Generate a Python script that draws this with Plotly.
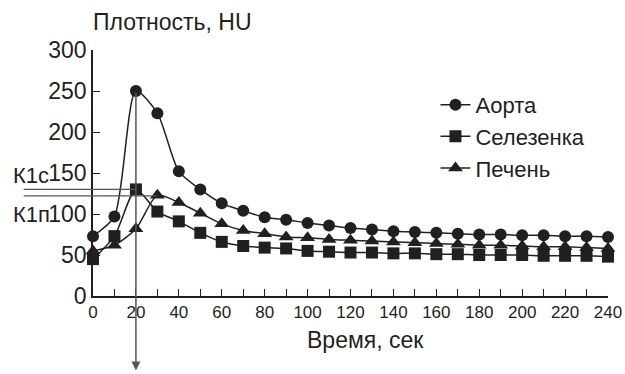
import plotly.graph_objects as go

time = [0, 10, 20, 30, 40, 50, 60, 70, 80, 90, 100, 110, 120, 130, 140, 150,
        160, 170, 180, 190, 200, 210, 220, 230, 240]
aorta = [73, 97, 250, 223, 152, 130, 113, 104, 96, 93, 89, 86, 83, 81, 79, 78,
         77, 76, 75, 75, 74, 74, 73, 73, 72]
spleen = [45, 73, 130, 103, 91, 77, 66, 61, 59, 58, 55, 54, 53, 53, 52, 52,
          51, 51, 50, 50, 50, 49, 49, 49, 48]
liver = [55, 62, 82, 123, 114, 101, 88, 80, 76, 72, 71, 69, 68, 67, 66, 65,
         64, 63, 62, 62, 61, 60, 60, 59, 58]

x_ticks = list(range(0, 241, 20))
y_ticks = [0, 50, 100, 150, 200, 250, 300]

ink = "#231f20"
gray = "#555555"
FONT = "Liberation Sans, Arial, sans-serif"

fig = go.Figure()
series = [("Аорта", aorta, "circle", 12), ("Селезенка", spleen, "square", 12),
          ("Печень", liver, "triangle-up", 13)]
for name, vals, sym, sz in series:
    fig.add_trace(go.Scatter(
        x=time, y=vals, name=name, mode="lines+markers",
        line=dict(color=ink, width=1.5, shape="spline", smoothing=0.7),
        marker=dict(symbol=sym, size=sz, color=ink),
        cliponaxis=False,
    ))

# vertical arrow at t=20 down below axis
fig.add_annotation(x=20, y=-91, ax=20, ay=250, xref="x", yref="y", axref="x", ayref="y",
                   text="", showarrow=True, arrowhead=2, arrowsize=1.2, arrowwidth=1.5,
                   arrowcolor=gray)
# horizontal reference lines (К1с, К1п)
fig.add_annotation(x=20, y=130, ax=-33, ay=130, xref="x", yref="y", axref="x", ayref="y",
                   text="", showarrow=True, arrowhead=0, arrowwidth=1.3, arrowcolor=gray)
fig.add_annotation(x=30, y=122, ax=-33, ay=122, xref="x", yref="y", axref="x", ayref="y",
                   text="", showarrow=True, arrowhead=0, arrowwidth=1.3, arrowcolor=gray)

fig.add_annotation(x=-0.159, y=147, xref="paper", yref="y", text="К1с", showarrow=False,
                   xanchor="left", yanchor="middle", font=dict(size=22, color=ink, family=FONT))
fig.add_annotation(x=-0.159, y=99, xref="paper", yref="y", text="К1п", showarrow=False,
                   xanchor="left", yanchor="middle", font=dict(size=22, color=ink, family=FONT))

fig.add_annotation(x=-0.003, y=1.112, xref="paper", yref="paper", text="Плотность, HU",
                   showarrow=False, xanchor="left", yanchor="middle",
                   font=dict(size=23, color=ink, family=FONT))
fig.add_annotation(x=0.53, y=-0.179, xref="paper", yref="paper", text="Время, сек",
                   showarrow=False, xanchor="center", yanchor="middle",
                   font=dict(size=23, color=ink, family=FONT))

fig.update_layout(
    width=625, height=374,
    margin=dict(l=93, r=17, t=50, b=78),
    paper_bgcolor="white", plot_bgcolor="white",
    font=dict(family=FONT, color=ink),
    showlegend=True,
    legend=dict(x=0.665, y=0.862, xanchor="left", yanchor="top",
                font=dict(size=22, color=ink, family=FONT),
                bgcolor="rgba(0,0,0,0)", tracegroupgap=0, itemwidth=30),
    xaxis=dict(range=[0, 240], tickvals=list(range(0, 241, 10)),
               ticktext=[str(t) if t in x_ticks else "" for t in range(0, 241, 10)],
               ticks="inside", ticklen=7, tickwidth=1.3, tickcolor=ink,
               showline=True, linecolor=ink, linewidth=1.5, showgrid=False, zeroline=False,
               automargin=False,
               tickfont=dict(size=17, color=ink, family=FONT)),
    yaxis=dict(range=[0, 300], tickvals=y_ticks,
               ticks="inside", ticklen=7, tickwidth=1.3, tickcolor=ink,
               showline=True, linecolor=ink, linewidth=1.5, showgrid=False, zeroline=False,
               automargin=False,
               tickfont=dict(size=23, color=ink, family=FONT)),
)

fig.write_html("out.html", config={"displayModeBar": False},
               post_script="document.body.style.margin='0px';")
